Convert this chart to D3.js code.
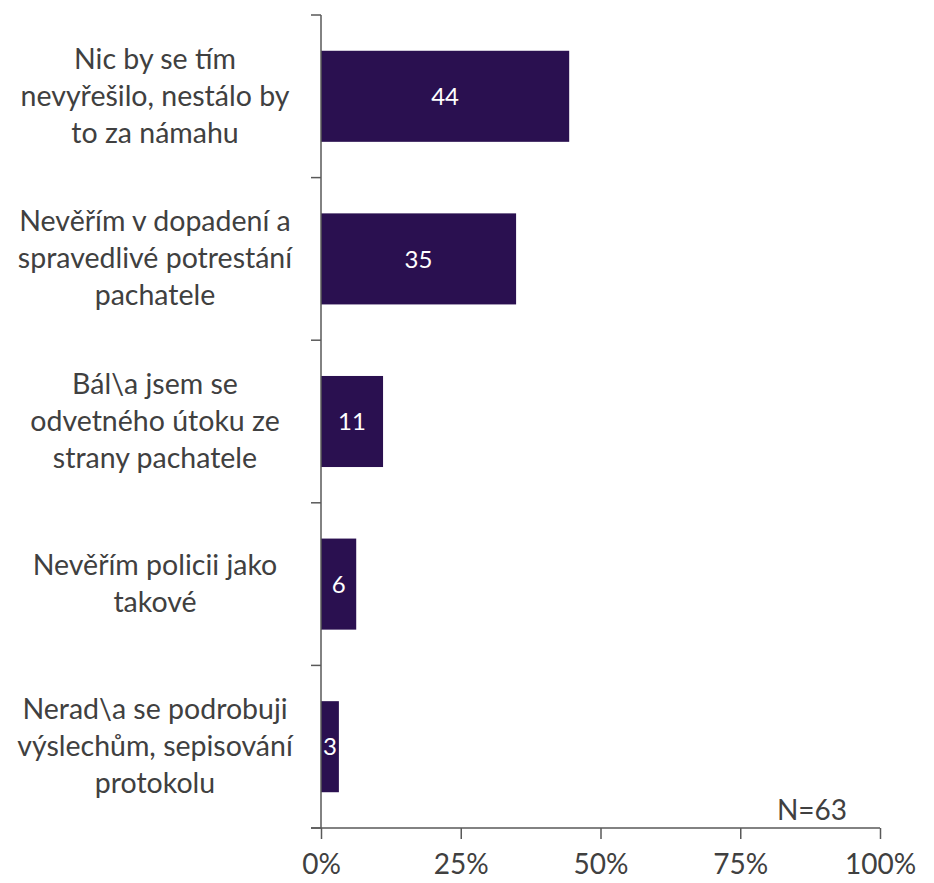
<!DOCTYPE html>
<html><head><meta charset="utf-8">
<script src="https://cdn.jsdelivr.net/npm/d3@7"></script>
<style>body{margin:0;background:#fff}svg{display:block}text{font-family:Lato,"Open Sans",sans-serif}</style>
</head><body>
<svg id="c" width="934" height="883"></svg>
<script>
const categories = [
  ["Nic by se tím","nevyřešilo, nestálo by","to za námahu"],
  ["Nevěřím v dopadení a","spravedlivé potrestání","pachatele"],
  ["Bál\\a jsem se","odvetného útoku ze","strany pachatele"],
  ["Nevěřím policii jako","takové"],
  ["Nerad\\a se podrobuji","výslechům, sepisování","protokolu"]
];
const values = [44.4, 34.9, 11.1, 6.3, 3.2];
const valueLabels = ["44","35","11","6","3"];
const xTicks = [0, 25, 50, 75, 100];
const note = "N=63";

(function(){
const svg = d3.select("#c");
const left = 321, right = 880, topY = 15, bottomY = 828;
const x = d3.scaleLinear().domain([0,100]).range([left,right]);
const y = d3.scaleBand().domain(d3.range(categories.length)).range([topY,bottomY]).paddingInner(0.44).paddingOuter(0.22);
const axisCol = "#595959", textCol = "#404040", barCol = "#2a1050";

svg.selectAll("rect.bar").data(values).join("rect").attr("class","bar")
  .attr("x", x(0)).attr("y",(d,i)=>y(i)).attr("width", d=>x(d)-x(0)).attr("height", y.bandwidth())
  .attr("fill", barCol);

svg.selectAll("text.val").data(values).join("text").attr("class","val")
  .attr("x", d=>(x(0)+x(d))/2).attr("y",(d,i)=>y(i)+y.bandwidth()/2).attr("dy","0.36em")
  .attr("text-anchor","middle").attr("fill","#fff").attr("font-size",24)
  .text((d,i)=>valueLabels[i]);

const step = (bottomY-topY)/categories.length;
const yb = svg.append("g");
yb.append("line").attr("x1",left).attr("x2",left).attr("y1",topY).attr("y2",bottomY).attr("stroke",axisCol).attr("stroke-width",1.5);
yb.selectAll("line.t").data(d3.range(categories.length+1)).join("line").attr("class","t")
  .attr("x1",left-10).attr("x2",left).attr("y1",i=>topY+i*step).attr("y2",i=>topY+i*step)
  .attr("stroke",axisCol).attr("stroke-width",1.5);

const lh = 37;
categories.forEach((lines,i)=>{
  const cy = y(i)+y.bandwidth()/2;
  const t = svg.append("text").attr("text-anchor","middle").attr("fill",textCol).attr("font-size",28.5);
  lines.forEach((s,j)=>{
    t.append("tspan").attr("x",155).attr("y", cy + (j-(lines.length-1)/2)*lh).attr("dy","0.33em").text(s);
  });
});

const xa = svg.append("g").attr("transform",`translate(0,${bottomY})`)
  .call(d3.axisBottom(x).tickValues(xTicks).tickSize(11).tickSizeOuter(0).tickPadding(15).tickFormat(d=>d+"%"));
xa.select(".domain").attr("stroke",axisCol).attr("stroke-width",1.5).attr("d",`M${left-10},0H${right}`);
xa.selectAll(".tick line").attr("stroke",axisCol).attr("stroke-width",1.5);
xa.selectAll(".tick text").attr("fill",textCol).attr("font-size",28).attr("font-family","Lato,'Open Sans',sans-serif");

svg.append("text").attr("x",847).attr("y",820).attr("text-anchor","end").attr("fill",textCol).attr("font-size",28).text(note);
})();
</script>
</body></html>
